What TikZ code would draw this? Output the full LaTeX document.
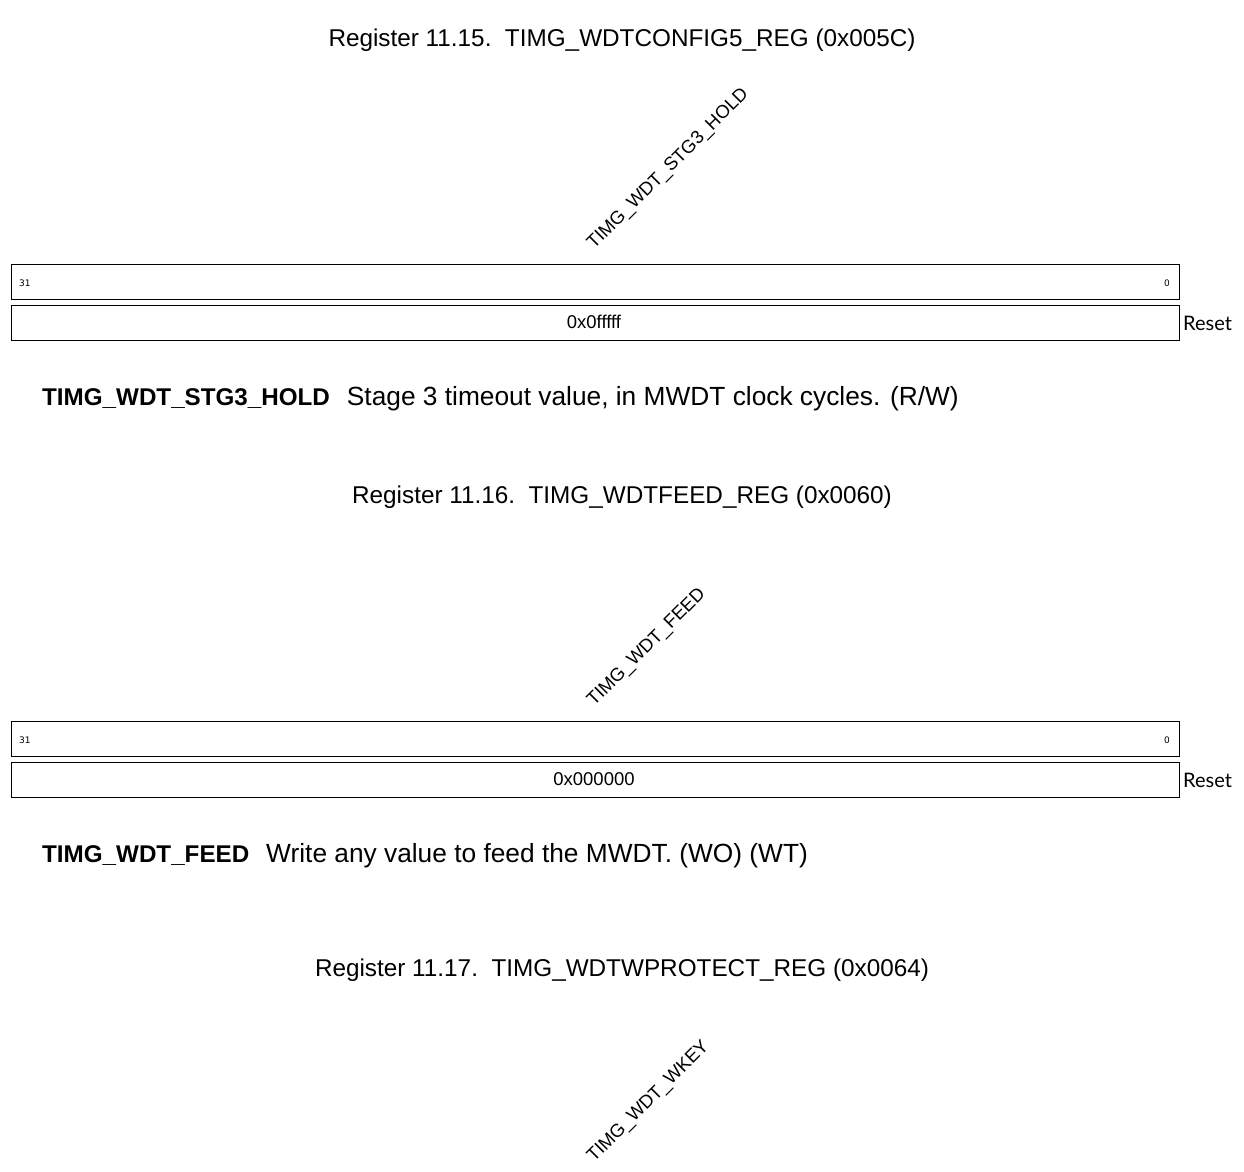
\documentclass[tikz,border=0pt]{standalone}
\usepackage{fontspec}
\setmainfont{Liberation Sans}
\newfontfamily\latofont{Lato}
\newfontfamily\labfont{Liberation Sans}
\newfontfamily\bitfont{DejaVu Sans}
\newcommand\descbold[1]{{\fontsize{24.2}{27}\selectfont\bfseries #1}}
\begin{document}
\begin{tikzpicture}[x=1pt,y=-1pt,
 regtitle/.style={font=\fontsize{24.3}{27}\selectfont, anchor=base, inner sep=0},
 field/.style={font=\labfont\fontsize{18.5}{20}\selectfont, rotate=45, anchor=base west, inner sep=0},
 regbox/.style={draw, line width=1pt, minimum width=1168pt, minimum height=35pt, inner sep=0, anchor=north west},
 bitnum/.style={font=\bitfont\fontsize{9}{10}\selectfont, inner sep=0},
 resetval/.style={font=\fontsize{18.5}{20}\selectfont, inner sep=0, anchor=base},
 resetlbl/.style={font=\latofont\fontsize{20}{22}\selectfont, inner sep=0, anchor=base west},
 desc/.style={font=\fontsize{26.3}{28}\selectfont, inner sep=0, anchor=base west}]
\useasboundingbox (0,0) rectangle (1244,1171);
% Register 11.15
\node[regtitle] (t1) at (622,46) {Register 11.15.\ \ TIMG\_WDTCONFIG5\_REG (0x005C)};
\node[field] (f1) at (594,250) {TIMG\_WDT\_STG3\_HOLD};
\node[regbox] (b1) at (10.5,264) {};
\node[regbox] (r1) at (10.5,305) {};
\node[bitnum, anchor=base west] (h1) at (19,286) {31};
\node[bitnum, anchor=base east] (l1) at (1170,286) {0};
\node[resetval] (v1) at (594,328) {0x0fffff};
\node[resetlbl] (s1) at (1183,330) {Reset};
\node[desc] (d1) at (42,405) {\descbold{TIMG\_WDT\_STG3\_HOLD}\hspace{17pt}Stage 3 timeout value, in MWDT clock cycles. (R/W)};
% Register 11.16
\node[regtitle] (t2) at (622,503) {Register 11.16.\ \ TIMG\_WDTFEED\_REG (0x0060)};
\node[field] (f2) at (594,707) {TIMG\_WDT\_FEED};
\node[regbox] (b2) at (10.5,721) {};
\node[regbox] (r2) at (10.5,762) {};
\node[bitnum, anchor=base west] (h2) at (19,743) {31};
\node[bitnum, anchor=base east] (l2) at (1170,743) {0};
\node[resetval] (v2) at (594,785) {0x000000};
\node[resetlbl] (s2) at (1183,787) {Reset};
\node[desc] (d2) at (42,862) {\descbold{TIMG\_WDT\_FEED}\hspace{17pt}Write any value to feed the MWDT. (WO) (WT)};
% Register 11.17
\node[regtitle] (t3) at (622,976) {Register 11.17.\ \ TIMG\_WDTWPROTECT\_REG (0x0064)};
\node[field] (f3) at (594,1163) {TIMG\_WDT\_WKEY};
\end{tikzpicture}
\end{document}
